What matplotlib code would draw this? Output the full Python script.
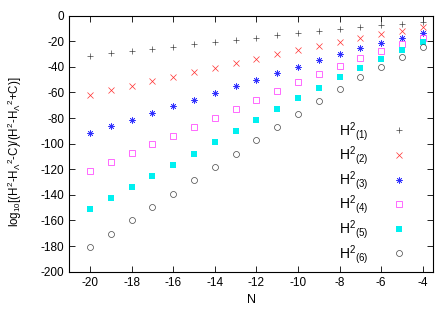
import numpy as np
import matplotlib.pyplot as plt

plt.rcParams['font.family'] = ['Liberation Sans', 'DejaVu Sans']
plt.rcParams['mathtext.fontset'] = 'custom'
plt.rcParams['mathtext.rm'] = 'Liberation Sans'
plt.rcParams['mathtext.it'] = 'Liberation Sans:italic'
plt.rcParams['mathtext.default'] = 'rm'
plt.rcParams['axes.unicode_minus'] = False

N = np.arange(-20, -3)

h1 = [-31.3, -29.4, -27.8, -26.3, -24.5, -22.4, -20.5, -19.0, -17.4,
      -15.3, -13.7, -12.2, -10.6, -9.1, -7.5, -6.3, -5.2]
h2 = [-62.0, -58.0, -54.9, -51.3, -47.9, -44.2, -40.9, -37.2, -33.8,
      -30.2, -26.8, -23.4, -20.3, -17.2, -14.5, -12.0, -9.1]
h3 = [-91.6, -86.4, -81.2, -76.2, -70.8, -65.6, -60.4, -55.2, -50.0,
      -44.8, -39.8, -34.6, -29.7, -25.5, -21.6, -17.2, -13.8]
h4 = [-121.6, -114.5, -107.5, -100.5, -93.7, -86.7, -79.6, -72.9, -65.9,
      -58.8, -52.0, -45.5, -39.0, -33.3, -27.6, -22.1, -17.2]
h5 = [-151.0, -142.4, -133.8, -125.0, -116.4, -107.8, -98.9, -90.3, -81.2,
      -72.9, -64.5, -56.2, -48.1, -40.9, -33.8, -27.0, -20.5]
h6 = [-180.7, -170.3, -159.9, -149.5, -139.1, -128.6, -118.2, -107.8, -97.4,
      -87.0, -76.7, -66.4, -57.0, -48.1, -39.8, -32.0, -24.2]

labels = [r'H$^{2}$$_{(%d)}$' % k for k in range(1, 7)]

fig = plt.figure(figsize=(4.47, 3.13), dpi=100)
ax = fig.add_axes([0.155, 0.132, 0.814, 0.818])

ax.plot(N, h1, ls='none', marker='+', ms=4.5, mew=0.5, c='#444444', label=labels[0])
ax.plot(N, h2, ls='none', marker='x', ms=4, mew=0.5, c='#ff3030', label=labels[1])
ax.plot(N, h3, ls='none', marker=(8, 2, 0), ms=4.5, mew=0.5, c='#3030ff', label=labels[2])
ax.plot(N, h4, ls='none', marker='s', ms=4, mew=0.6, mfc='none', c='#ff50ff', label=labels[3])
ax.plot(N, h5, ls='none', marker='s', ms=4, mew=0, c='#00f0f0', label=labels[4])
ax.plot(N, h6, ls='none', marker='o', ms=4.3, mew=0.5, mfc='none', c='#444444', label=labels[5])

ax.set_xlim(-21, -3.5)
ax.set_ylim(-200, 0)
ax.set_xticks(np.arange(-20, -3, 2))
ax.set_yticks(np.arange(-200, 1, 20))
ax.tick_params(direction='in', top=True, right=True, labelsize=8.5, length=4, width=0.6)
for s in ax.spines.values():
    s.set_linewidth(0.8)

ax.set_xlabel('N', fontsize=9)
ax.set_ylabel(r'log$_{10}$[(H$^2$-H$_\Lambda$$^2$-C)/(H$^2$-H$_\Lambda$$^2$+C)]', fontsize=8.3)
ax.yaxis.set_label_coords(-0.125, 0.47)

ax.legend(loc='lower right', frameon=False, markerfirst=False, fontsize=10,
          labelspacing=0.12, handletextpad=1.5, handlelength=1.5,
          bbox_to_anchor=(0.97, -0.025))

fig.savefig('out.png', dpi=100)
